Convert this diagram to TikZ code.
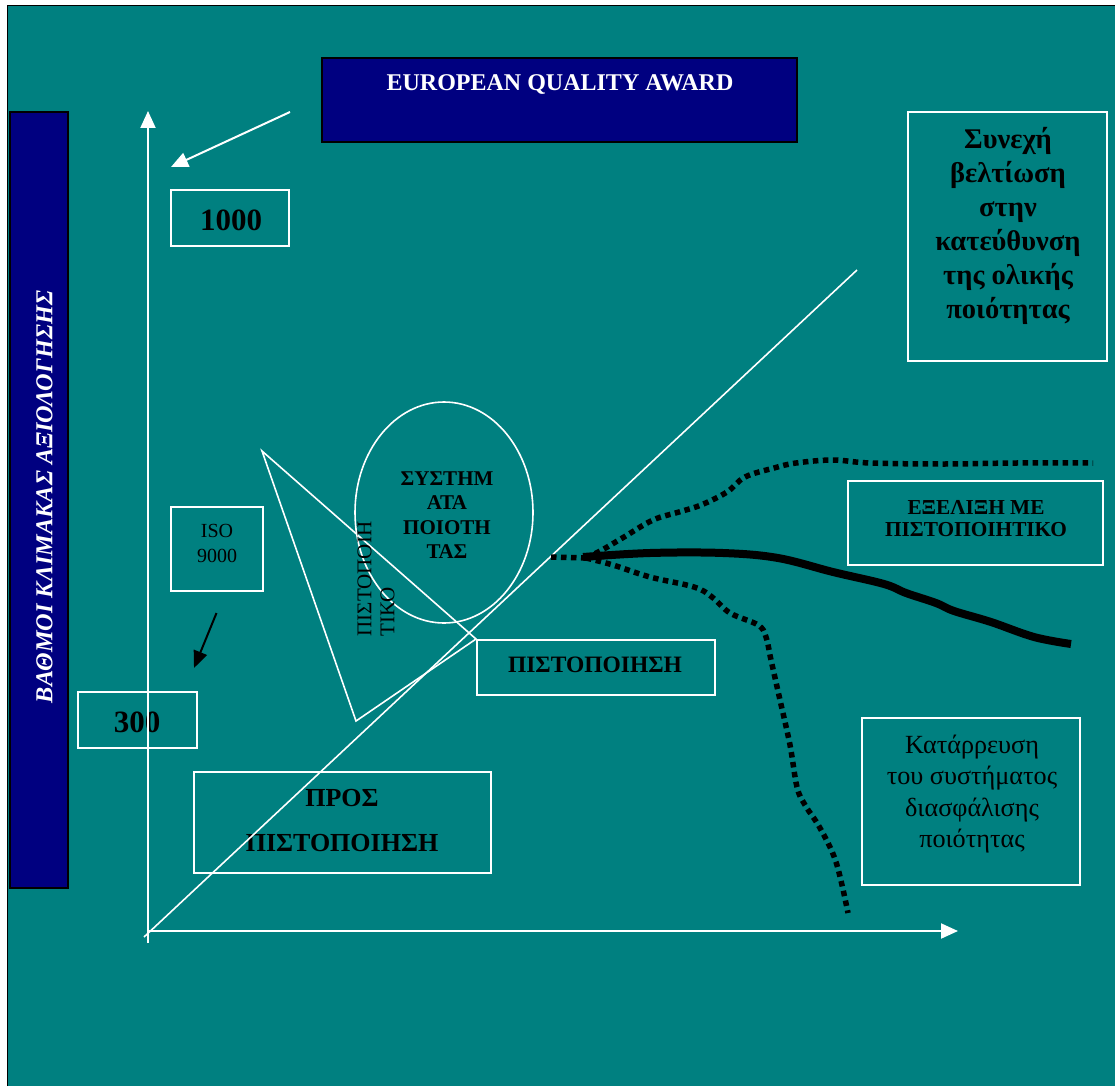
\documentclass[tikz,border=0pt]{standalone}
\usepackage{fontspec}
\setmainfont{Liberation Serif}
\usetikzlibrary{arrows.meta,shapes.geometric}
\definecolor{myteal}{RGB}{0,128,128}
\definecolor{mynavy}{RGB}{0,0,128}
\tikzset{
  wbox/.style={draw=white, line width=2pt, inner sep=0pt, minimum width=#1},
  nbox/.style={draw=black, line width=1.5pt, fill=mynavy, inner sep=0pt},
  txt/.style={inner sep=0pt, align=center, text=black},
  axis/.style={draw=white, line width=2pt, -{Triangle[length=17pt,width=15pt]}},
  dotline/.style={line width=5.5pt, dash pattern=on 5.5pt off 4.5pt, black},
  solidline/.style={line width=8pt, black, line cap=butt}
}
\begin{document}
\begin{tikzpicture}[x=1pt,y=-1pt]
\useasboundingbox (0,0) rectangle (1115,1086);
\fill[white] (0,0) rectangle (1115,1086);
\fill[myteal] (7,6) rectangle (1115,1086);
\draw[black, line width=1.2pt] (7.5,1086) -- (7.5,5.6) -- (1115,5.6);

% left navy bar
\node[nbox, minimum width=58pt, minimum height=776pt] (bar) at (39,500) {};
\node[inner sep=0pt, rotate=90, text=white, font=\fontsize{24.3}{26}\selectfont\bfseries\itshape] (barlabel) at (44.5,497) {ΒΑΘΜΟΙ ΚΛΙΜΑΚΑΣ ΑΞΙΟΛΟΓΗΣΗΣ};

% European quality award box
\node[nbox, minimum width=475pt, minimum height=84pt] (eqa) at (559.5,100) {};
\node[inner sep=0pt, text=white, font=\fontsize{24}{26}\selectfont\bfseries] (eqatext) at (560,85) {EUROPEAN QUALITY AWARD};

% white boxes
\node[wbox=118pt, minimum height=56pt] (b1000) at (230,218) {};
\node[txt, font=\fontsize{31}{34}\selectfont\bfseries] (t1000) at (231,220) {1000};

\node[wbox=92pt, minimum height=84pt] (iso) at (217,549) {};
\node[txt, font=\fontsize{20}{25}\selectfont] (isotext) at (217,543) {ISO\\9000};

\node[wbox=119pt, minimum height=56pt] (b300) at (137.5,720) {};
\node[txt, font=\fontsize{31}{34}\selectfont\bfseries] (t300) at (137,722) {300};

\node[wbox=297pt, minimum height=101pt] (pros) at (342.5,822.5) {};
\node[txt, font=\fontsize{26}{45}\selectfont\bfseries] (prostext) at (342,820.5) {ΠΡΟΣ\\ΠΙΣΤΟΠΟΙΗΣΗ};

\node[wbox=238pt, minimum height=55pt] (pist) at (596,667.5) {};
\node[txt, font=\fontsize{23.5}{26}\selectfont\bfseries] (pisttext) at (595,665) {ΠΙΣΤΟΠΟΙΗΣΗ};

\node[wbox=255pt, minimum height=84pt] (exel) at (975.5,523) {};
\node[txt, font=\fontsize{21.3}{22}\selectfont\bfseries] (exeltext) at (976,519) {ΕΞΕΛΙΞΗ ΜΕ\\ΠΙΣΤΟΠΟΙΗΤΙΚΟ};

\node[wbox=218pt, minimum height=167pt] (kat) at (971,801.5) {};
\node[txt, font=\fontsize{26.2}{31.5}\selectfont] (kattext) at (972,794) {Κατάρρευση\\του συστήματος\\διασφάλισης\\ποιότητας};

\node[wbox=199pt, minimum height=249pt] (syn) at (1007.5,236.5) {};
\node[txt, font=\fontsize{28.5}{34}\selectfont\bfseries] (syntext) at (1008,226) {Συνεχή\\βελτίωση\\στην\\κατεύθυνση\\της ολικής\\ποιότητας};

% ellipse
\node[ellipse, draw=white, line width=1.6pt, minimum width=178pt, minimum height=221pt, inner sep=0pt] (ell) at (444,512.5) {};
\node[txt, font=\fontsize{21}{24.5}\selectfont\bfseries] (elltext) at (447,515) {ΣΥΣΤΗΜ\\ΑΤΑ\\ΠΟΙΟΤΗ\\ΤΑΣ};

% triangle
\coordinate (tA) at (262,451);
\coordinate (tB) at (356,721);
\draw[white, line width=1.6pt, line join=miter] (tA) -- (tB) -- (pist.north west) -- cycle;
\node[inner sep=0pt, rotate=90, align=left, font=\fontsize{21}{23}\selectfont] (tritext) at (376,579) {ΠΙΣΤΟΠΟΙΗ\\ΤΙΚΟ};

% axes
\coordinate (yb) at (148,943);
\coordinate (yt) at (148,111);
\coordinate (xl) at (147,931);
\coordinate (xr) at (958,931);
\draw[axis] (yb) -- (yt);
\draw[axis] (xl) -- (xr);

% diagonal
\coordinate (dl) at (144,937);
\coordinate (dr) at (857,270);
\draw[white, line width=1.6pt] (dl) -- (dr);

% arrows
\coordinate (ea) at (290,112);
\coordinate (eb) at (171,167);
\draw[white, line width=2pt, -{Triangle[length=17pt,width=15pt]}] (ea) -- (eb);
\coordinate (ia) at (216.5,613);
\coordinate (ib) at (194,668);
\draw[black, line width=2pt, -{Triangle[length=17pt,width=14pt]}] (ia) -- (ib);

% curves
\coordinate (c0) at (551,557);
\coordinate (c1) at (586,558);
\draw[dotline] (c0) -- (c1);
\draw[dotline] plot[smooth, tension=0.6] coordinates {(586,558) (602,550) (624,537) (653,520) (679,512) (701,505) (727,492) (745,477) (774,468) (796,463) (833,460) (870,463) (943,464) (1016,463) (1093,463)};
\draw[dotline] plot[smooth, tension=0.6] coordinates {(586,558) (613,565) (650,577) (694,587) (712,597) (730,613) (758,625) (766,637) (771,660) (780,700) (790,745) (797,787) (805,805) (820,828) (836,862) (848,913)};
\draw[solidline] plot[smooth, tension=0.6] coordinates {(583,557) (650,553) (723,553) (778,558) (833,572) (884,584) (906,593) (936,603) (954,611) (991,622) (1034,637) (1071,644)};
\end{tikzpicture}
\end{document}
